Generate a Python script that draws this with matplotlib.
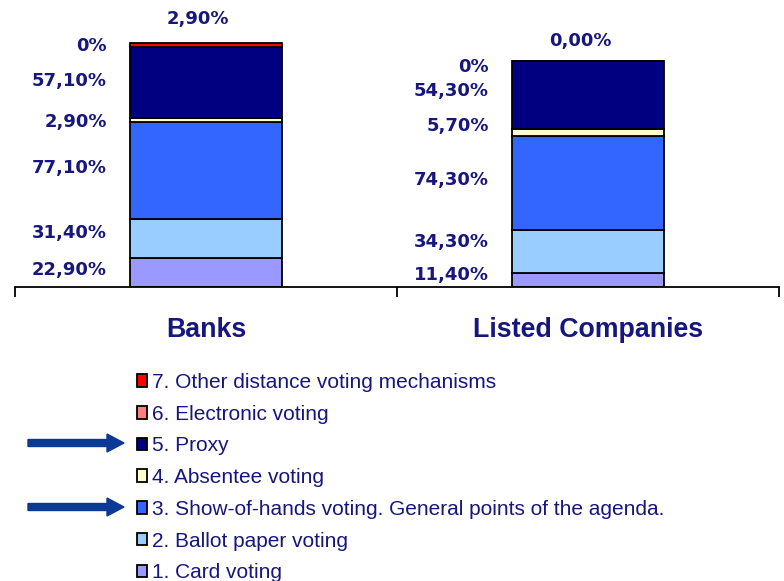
import matplotlib.pyplot as plt
from matplotlib.patches import Patch, FancyArrow

# Voting mechanisms used at general meetings (% of entities)
groups = ['Banks', 'Listed Companies']
series = ['1. Card voting',
          '2. Ballot paper voting',
          '3. Show-of-hands voting. General points of the agenda.',
          '4. Absentee voting',
          '5. Proxy',
          '6. Electronic voting',
          '7. Other distance voting mechanisms']
card = [22.9, 11.4]
ballot = [31.4, 34.3]
show_hands = [77.1, 74.3]
absentee = [2.9, 5.7]
proxy = [57.1, 54.3]
electronic = [0.0, 0.0]
other = [2.9, 0.0]
value_text = [['22,90%', '31,40%', '77,10%', '2,90%', '57,10%', '0%', '2,90%'],
              ['11,40%', '34,30%', '74,30%', '5,70%', '54,30%', '0%', '0,00%']]

colors = ['#9999FF', '#99CCFF', '#3366FF', '#FFFFCC', '#000080', '#FF8080', '#FF0000']
navy = '#16167e'

values = [card, ballot, show_hands, absentee, proxy, electronic, other]

fig = plt.figure(figsize=(7.84, 5.81), dpi=100)
ax = fig.add_axes([15 / 784, 294 / 581, 764 / 784, 287 / 581])

# small vertical nudges so labels don't collide (data units)
nudge = [[2.0, 4.5, 2.0, -1.3, 1.6, 0.6, 19.0],
         [3.9, 7.3, 2.4, 5.4, 3.3, -4.7, 16.0]]

x = [0, 1]
bottom = [0.0, 0.0]
for k, vals in enumerate(values):
    ax.bar(x, vals, width=0.4, bottom=bottom, color=colors[k],
           edgecolor='black', linewidth=1.3, zorder=2)
    for i in range(2):
        top = bottom[i] + vals[i]
        if k == 6:
            ax.text(x[i] - 0.02, top + nudge[i][k], value_text[i][k],
                    ha='center', va='center', fontsize=13,
                    fontweight='bold', color=navy)
        else:
            yc = bottom[i] + vals[i] / 2 + nudge[i][k]
            ax.text(x[i] - 0.26, yc, value_text[i][k], ha='right',
                    va='center', fontsize=13, fontweight='bold', color=navy)
    bottom = [bottom[i] + vals[i] for i in range(2)]

ax.set_xlim(-0.5, 1.5)
ax.set_ylim(0, 228.7)
for s in ['left', 'right', 'top']:
    ax.spines[s].set_visible(False)
ax.spines['bottom'].set_linewidth(1.3)
ax.set_yticks([])
ax.set_xticks([-0.5, 0.5, 1.5])
ax.set_xticklabels([])
ax.tick_params(axis='x', direction='out', length=7.5, width=1.3)

for i, g in enumerate(groups):
    ax.text(x[i], -0.15, g, transform=ax.get_xaxis_transform(),
            ha='center', va='center', fontsize=19.3, fontweight='bold',
            family='Liberation Sans', color=navy)

handles = [Patch(facecolor=colors[k], edgecolor='black', linewidth=1.3,
                 label=series[k]) for k in range(6, -1, -1)]
leg = fig.legend(handles=handles, loc='upper left',
                 bbox_to_anchor=(137 / 784, 1 - 373 / 581),
                 frameon=False, handlelength=0.5,
                 handleheight=0.55, handletextpad=0.2, labelspacing=0.61,
                 borderpad=0, borderaxespad=0,
                 prop={'family': 'Liberation Sans', 'size': 15})
for t in leg.get_texts():
    t.set_color(navy)

# arrows pointing at the proxy and show-of-hands entries
for py in [443, 507]:
    fig.add_artist(FancyArrow(0.28, (581 - py) / 100, 0.96, 0,
                              width=0.07, head_width=0.18, head_length=0.17,
                              length_includes_head=True, color='#0a3a94',
                              transform=fig.dpi_scale_trans))

fig.savefig('out.png', dpi=100)
